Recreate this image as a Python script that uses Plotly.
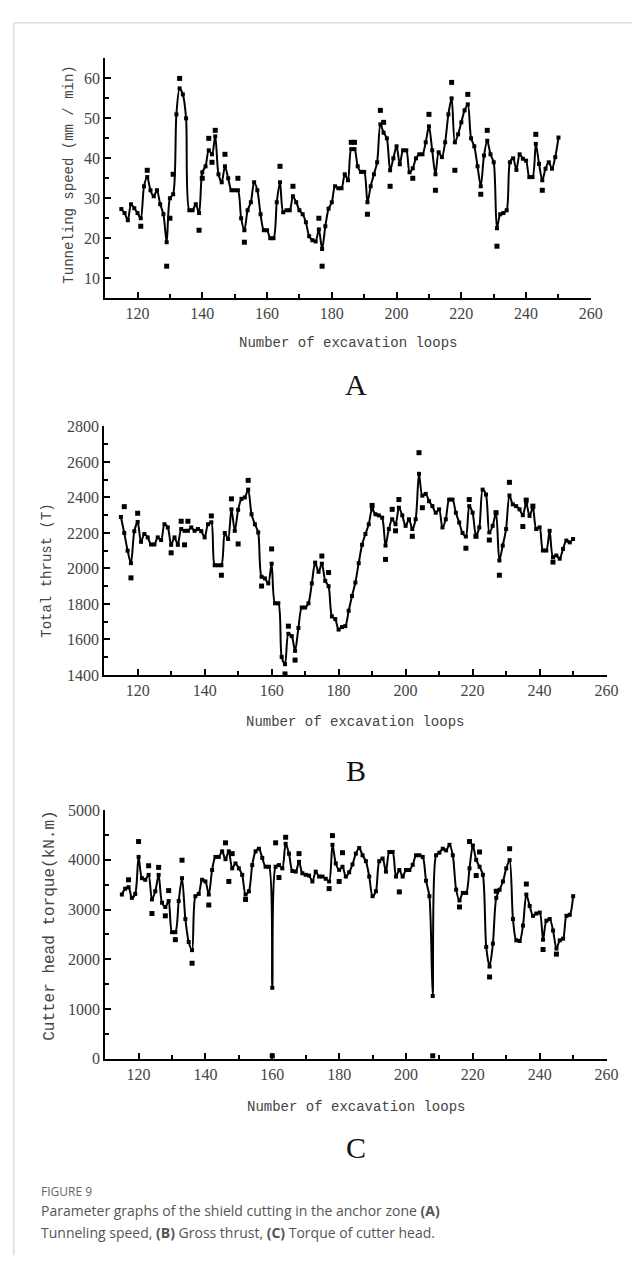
import plotly.graph_objects as go

W, H = 640, 1263

loops = list(range(115, 251))

speed = [27.3, 26.3, 24.5, 28.5, 27.5, 26.3, 25, 33, 35.3, 32,
         30.5, 32, 28.5, 26, 19, 30, 31, 51, 57.5, 56,
         50, 27, 27, 28.5, 26.3, 36.5, 38, 42, 41, 45.5,
         36, 34, 38, 35, 32, 32, 32, 25, 22, 27,
         29, 34, 32, 26, 22, 22, 20, 20, 29, 34,
         26.5, 27, 27, 30.5, 29, 27, 26, 24, 20.5, 19.5,
         19.2, 22.2, 17.3, 23, 27.4, 29, 33, 32.5, 32.5, 36,
         34.5, 42.3, 42.3, 38, 36.6, 36.6, 29, 33, 36, 39,
         48.5, 46.4, 45, 37, 40, 43, 38.5, 42, 42, 36.5,
         37.5, 40, 41, 41, 44, 48, 42, 36, 41.5, 40.3,
         44, 51, 55, 44, 46, 49, 52, 53.5, 45, 43,
         38, 33, 40.7, 44.4, 41, 39, 22.5, 26, 26.3, 27,
         39, 40, 37.1, 41, 39.9, 39.4, 35.3, 35.3, 43.6, 38.6,
         34.5, 37.4, 39, 37.4, 40.3, 45.2]
speed_raw_x = [121, 123, 129, 130, 131, 133, 139, 140, 142, 143,
               144, 147, 151, 153, 164, 168, 176, 177, 186, 187,
               191, 195, 196, 198, 205, 210, 212, 217, 218, 222,
               226, 228, 231, 243, 245]
speed_raw_y = [23, 37, 13, 25, 36, 60, 22, 35, 45, 39,
               47, 41, 35, 19, 38, 33, 25, 13, 44, 44,
               26, 52, 49, 33, 35, 51, 32, 59, 37, 56,
               31, 47, 18, 46, 32]

thrust = [2290, 2200, 2100, 2030, 2210, 2262, 2150, 2194, 2175, 2135,
          2135, 2175, 2160, 2249, 2231, 2133, 2175, 2133, 2222, 2212,
          2212, 2231, 2212, 2222, 2210, 2175, 2249, 2260, 2018, 2018,
          2018, 2200, 2166, 2333, 2212, 2330, 2392, 2400, 2444, 2305,
          2249, 2203, 1953, 1944, 1916, 2027, 1804, 1804, 1502, 1461,
          1632, 1619, 1536, 1665, 1780, 1780, 1804, 1916, 2033, 1981,
          2027, 1930, 1900, 1730, 1715, 1656, 1670, 1675, 1762, 1845,
          1921, 2030, 2133, 2194, 2249, 2333, 2305, 2299, 2286, 2129,
          2222, 2277, 2249, 2342, 2299, 2240, 2277, 2222, 2277, 2533,
          2410, 2420, 2379, 2351, 2314, 2333, 2231, 2277, 2388, 2388,
          2314, 2259, 2200, 2180, 2351, 2314, 2185, 2231, 2444, 2416,
          2203, 2240, 2314, 2045, 2129, 2222, 2411, 2361, 2351, 2333,
          2300, 2370, 2296, 2342, 2222, 2231, 2101, 2101, 2212, 2064,
          2073, 2055, 2110, 2157, 2147, 2166]
thrust_raw_x = [116, 118, 120, 130, 133, 134, 135, 142, 145, 148,
                150, 153, 157, 160, 164, 165, 167, 175, 177, 190,
                194, 196, 197, 198, 202, 204, 205, 218, 219, 221,
                225, 227, 228, 231, 235, 236, 238, 244]
thrust_raw_y = [2348, 1947, 2311, 2088, 2266, 2133, 2266, 2296, 1962, 2392,
                2138, 2496, 1901, 2110, 1406, 1675, 1484, 2070, 1977, 2355,
                2051, 2333, 2212, 2388, 2181, 2652, 2342, 2114, 2388, 2181,
                2160, 2314, 1962, 2485, 2236, 2385, 2351, 2036]

torque = [3303, 3420, 3450, 3237, 3316, 4060, 3632, 3600, 3698, 3204,
          3369, 3698, 3139, 3053, 3172, 2546, 2546, 3172, 3632, 2810,
          2349, 2185, 3270, 3316, 3600, 3566, 3303, 3797, 4060, 4060,
          4172, 4014, 4172, 3830, 3928, 3830, 3698, 3303, 3369, 3895,
          4172, 4224, 4040, 3862, 3862, 1428, 3862, 3895, 3830, 4323,
          4126, 3777, 3764, 3961, 3731, 3700, 3685, 3566, 3764, 3665,
          3665, 3620, 3566, 4303, 3928, 3800, 3862, 3665, 3750, 3909,
          4126, 4238, 4093, 3974, 3665, 3270, 3369, 3974, 4027, 3764,
          4159, 4159, 3665, 3797, 3665, 3797, 3797, 3900, 4093, 4093,
          4060, 3580, 3270, 1263, 4093, 4145, 4224, 4191, 4303, 4093,
          3402, 3185, 3336, 3336, 3830, 4290, 4000, 3862, 3700, 2250,
          1855, 2316, 3237, 3400, 3566, 3830, 3994, 2810, 2382, 2369,
          2678, 3303, 3073, 2875, 2921, 2941, 2395, 2777, 2810, 2579,
          2217, 2382, 2415, 2875, 2895, 3270]
torque_raw_x = [117, 120, 123, 124, 126, 128, 129, 131, 133, 136,
                141, 146, 147, 148, 152, 160, 161, 162, 164, 168,
                177, 178, 180, 181, 198, 208, 216, 219, 221, 222,
                225, 227, 231, 236, 241, 245]
torque_raw_y = [3600, 4369, 3882, 2921, 3849, 2875, 3382, 2395, 3994, 1921,
                3093, 4343, 3566, 4126, 3204, 60, 4343, 3645, 4455, 4126,
                3422, 4488, 3566, 4145, 3356, 60, 3053, 4369, 3685, 4159,
                1645, 3369, 4224, 3514, 2198, 2105]

x_title = "Number of excavation loops"
y_titles = ["Tunneling speed (mm / min)", "Total thrust (T)", "Cutter head torque(kN.m)"]
letters = ["A", "B", "C"]

def px(x):
    return x / W

def py(y):
    return 1 - y / H

# panel geometry in pixels: left, right, top, bottom
panels = [
    (99, 594, 43, 286),
    (98, 610, 416, 668),
    (99, 610, 805, 1057),
]
yranges = [[5, 65], [1400, 2800], [0, 5000]]
ydticks = [10, 200, 1000]
yminor = [5, 100, 500]
yt0 = [10, 1400, 0]

series = [(speed, speed_raw_x, speed_raw_y),
          (thrust, thrust_raw_x, thrust_raw_y),
          (torque, torque_raw_x, torque_raw_y)]

fig = go.Figure()
tickfont = dict(family="Liberation Serif", size=16, color="#444444")
for i, (line_y, rx, ry) in enumerate(series):
    xa = "x" if i == 0 else f"x{i+1}"
    ya = "y" if i == 0 else f"y{i+1}"
    fig.add_trace(go.Scatter(
        x=loops, y=line_y, mode="lines+markers", xaxis=xa, yaxis=ya,
        line=dict(color="black", width=2, shape="spline", smoothing=0.8),
        marker=dict(symbol="square", size=4, color="black"),
        showlegend=False, cliponaxis=False))
    fig.add_trace(go.Scatter(
        x=rx, y=ry, mode="markers", xaxis=xa, yaxis=ya,
        marker=dict(symbol="square", size=5, color="black"),
        showlegend=False, cliponaxis=False))

layout = dict(
    width=W, height=H, margin=dict(l=0, r=0, t=0, b=0),
    paper_bgcolor="white", plot_bgcolor="white",
)
annotations = []
for i, (l, r, t, b) in enumerate(panels):
    sx = "" if i == 0 else str(i + 1)
    layout[f"xaxis{sx}"] = dict(
        domain=[px(l), px(r)], anchor=f"y{sx}", range=[110, 260],
        tick0=120, dtick=20, ticks="inside", ticklen=6, tickwidth=2,
        tickcolor="black", showline=True, linecolor="black", linewidth=2,
        showgrid=False, zeroline=False, tickfont=tickfont,
        minor=dict(dtick=10, tick0=120, ticks="inside", ticklen=4, tickwidth=2,
                   tickcolor="black", showgrid=False),
    )
    layout[f"yaxis{sx}"] = dict(
        domain=[py(b), py(t)], anchor=f"x{sx}", range=yranges[i],
        tick0=yt0[i], dtick=ydticks[i], ticks="inside", ticklen=6, tickwidth=2,
        tickcolor="black", showline=True, linecolor="black", linewidth=2,
        showgrid=False, zeroline=False, tickfont=tickfont,
        minor=dict(dtick=yminor[i], ticks="inside", ticklen=4, tickwidth=2,
                   tickcolor="black", showgrid=False),
    )

title_y = [331, 716, 1106]
letter_y = [374, 765, 1147]
ytitle_pos = [(62, 161, 14), (40, 562, 14), (42, 922, 16)]
for i, (l, r, t, b) in enumerate(panels):
    cx = (l + r) / 2
    annotations.append(dict(
        text=x_title, x=px(cx), y=py(title_y[i]), xref="paper", yref="paper",
        xanchor="center", yanchor="middle", showarrow=False,
        font=dict(family="Liberation Mono", size=14, color="#444")))
    annotations.append(dict(
        text=letters[i], x=px(355), y=py(letter_y[i]), xref="paper", yref="paper",
        xanchor="center", yanchor="middle", showarrow=False,
        font=dict(family="Liberation Serif", size=30, color="#111")))
    annotations.append(dict(
        text=y_titles[i], x=px(ytitle_pos[i][0]), y=py(ytitle_pos[i][1]),
        xref="paper", yref="paper", textangle=-90,
        xanchor="center", yanchor="middle", showarrow=False,
        font=dict(family="Liberation Mono", size=ytitle_pos[i][2], color="#444")))

annotations.append(dict(
    text="FIGURE 9", x=px(32), y=py(1192), xref="paper", yref="paper",
    xanchor="left", yanchor="middle", showarrow=False,
    font=dict(family="Open Sans", size=12, color="#666")))
annotations.append(dict(
    text="Parameter graphs of the shield cutting in the anchor zone <b>(A)</b>",
    x=px(32), y=py(1211), xref="paper", yref="paper",
    xanchor="left", yanchor="middle", showarrow=False,
    font=dict(family="Open Sans", size=14, color="#555")))
annotations.append(dict(
    text="Tunneling speed, <b>(B)</b> Gross thrust, <b>(C)</b> Torque of cutter head.",
    x=px(32), y=py(1233), xref="paper", yref="paper",
    xanchor="left", yanchor="middle", showarrow=False,
    font=dict(family="Open Sans", size=14, color="#555")))

layout["annotations"] = annotations
layout["shapes"] = [
    dict(type="line", xref="paper", yref="paper", x0=px(6), x1=1, y0=py(7), y1=py(7),
         line=dict(color="#cccccc", width=1)),
    dict(type="line", xref="paper", yref="paper", x0=px(6), x1=px(6), y0=py(7), y1=py(1256),
         line=dict(color="#cccccc", width=1)),
]
fig.update_layout(**layout)
fig.write_html("out.html")
